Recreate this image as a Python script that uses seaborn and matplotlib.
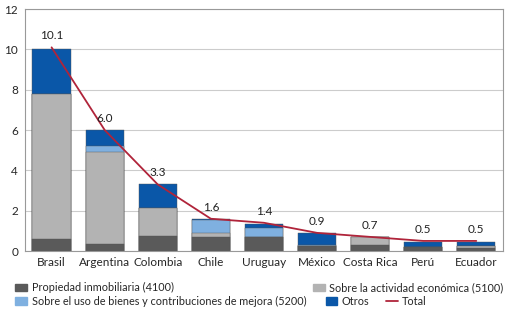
import numpy as np
import matplotlib
matplotlib.use("Agg")
import matplotlib.pyplot as plt
from matplotlib.patches import Patch
from matplotlib.lines import Line2D
import seaborn as sns

# data
countries = ["Brasil", "Argentina", "Colombia", "Chile", "Uruguay",
             "México", "Costa Rica", "Perú", "Ecuador"]
propiedad = [0.6, 0.35, 0.75, 0.7, 0.7, 0.25, 0.3, 0.2, 0.13]
actividad = [7.2, 4.55, 1.4, 0.2, 0.0, 0.0, 0.38, 0.0, 0.12]
uso_bienes = [0.0, 0.3, 0.0, 0.65, 0.45, 0.03, 0.0, 0.0, 0.0]
otros = [2.2, 0.8, 1.15, 0.05, 0.2, 0.6, 0.02, 0.25, 0.22]
total = [10.1, 6.0, 3.3, 1.6, 1.4, 0.9, 0.7, 0.5, 0.5]
total_labels = ["10.1", "6.0", "3.3", "1.6", "1.4", "0.9", "0.7", "0.5", "0.5"]

c_prop = "#5a5a5a"
c_act = "#b3b3b3"
c_uso = "#7fb0e0"
c_otros = "#0a57a8"
c_total = "#b0243a"

sns.set_style("white")
plt.rcParams["font.family"] = ["Lato", "DejaVu Sans"]

fig = plt.figure(figsize=(5.11, 3.12), dpi=100)
ax = fig.add_axes([0.049, 0.1955, 0.935, 0.7755])

# stacked bars: draw cumulative sums from the top down
layers = [propiedad, actividad, uso_bienes, otros]
colors = [c_prop, c_act, c_uso, c_otros]
cum = np.cumsum(np.array(layers), axis=0)
for vals, col in zip(cum[::-1], colors[::-1]):
    sns.barplot(x=countries, y=vals, color=col, width=0.72, ax=ax,
                saturation=1, linewidth=0.3, edgecolor="#555555")

sns.lineplot(x=np.arange(len(countries)), y=total, color=c_total,
             linewidth=1.3, ax=ax)

for i, (t, lab) in enumerate(zip(total, total_labels)):
    ax.text(i, t + 0.3, lab, ha="center", va="bottom", fontsize=8.5, color="#222222")

ax.set_ylim(0, 12)
ax.set_xlim(-0.5, len(countries) - 0.5)
ax.set_yticks(range(0, 13, 2))
ax.yaxis.grid(True, color="#cccccc", linewidth=0.8)
ax.set_axisbelow(True)
ax.set_xticks(np.arange(-0.5, len(countries), 1.0), minor=True)
ax.tick_params(axis="x", which="major", length=0, labelsize=8.5, pad=4)
ax.tick_params(axis="x", which="minor", length=4, color="#888888", direction="out")
ax.tick_params(axis="y", length=3, color="#888888", labelsize=8.5, pad=2)
for s in ax.spines.values():
    s.set_color("#999999")
    s.set_linewidth(0.8)
ax.set_xlabel("")
ax.set_ylabel("")


def leg(handle, label, x, y):
    lg = fig.legend([handle], [label], loc="center left", bbox_to_anchor=(x, y),
                    frameon=False, fontsize=7.8, handlelength=1.1, handleheight=0.7,
                    handletextpad=0.4, borderaxespad=0, borderpad=0)
    return lg


leg(Patch(color=c_prop), "Propiedad inmobiliaria (4100)", 0.03, 0.077)
leg(Patch(color=c_act), "Sobre la actividad económica (5100)", 0.612, 0.077)
leg(Patch(color=c_uso), "Sobre el uso de bienes y contribuciones de mejora (5200)", 0.03, 0.035)
leg(Patch(color=c_otros), "Otros", 0.637, 0.035)
leg(Line2D([], [], color=c_total, linewidth=1.3), "Total", 0.755, 0.035)

fig.savefig("out.png", dpi=100)
